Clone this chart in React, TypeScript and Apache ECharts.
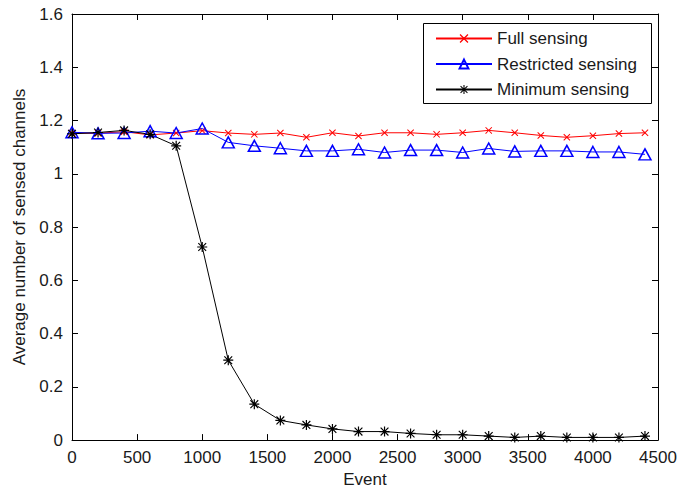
import React, { useEffect, useRef } from 'react';
import * as echarts from 'echarts';

const events = [0, 200, 400, 600, 800, 1000, 1200, 1400, 1600, 1800, 2000, 2200, 2400, 2600, 2800, 3000, 3200, 3400, 3600, 3800, 4000, 4200, 4400];
const fullSensing = [1.153, 1.152, 1.158, 1.146, 1.153, 1.162, 1.153, 1.148, 1.153, 1.137, 1.154, 1.142, 1.154, 1.154, 1.148, 1.154, 1.163, 1.154, 1.144, 1.137, 1.143, 1.151, 1.154];
const restrictedSensing = [1.156, 1.152, 1.153, 1.16, 1.153, 1.17, 1.118, 1.105, 1.096, 1.086, 1.086, 1.092, 1.08, 1.089, 1.089, 1.08, 1.095, 1.084, 1.086, 1.086, 1.082, 1.082, 1.073];
const minimumSensing = [1.15, 1.155, 1.163, 1.148, 1.105, 0.725, 0.3, 0.135, 0.074, 0.057, 0.042, 0.032, 0.032, 0.025, 0.02, 0.02, 0.015, 0.01, 0.015, 0.01, 0.01, 0.01, 0.015];
const seriesNames = ['Full sensing', 'Restricted sensing', 'Minimum sensing'];

const FONT = '"Liberation Sans", Arial, Helvetica, sans-serif';
const TXT = '#1a1a1a';
const X_SYMBOL = 'path://M0,1L1,0L5,4L9,0L10,1L6,5L10,9L9,10L5,6L1,10L0,9L4,5Z';
const STAR_SYMBOL = 'path://M4.4,0L5.6,0L5.6,10L4.4,10ZM0,4.4L10,4.4L10,5.6L0,5.6ZM1.5,0.7L9.3,8.5L8.5,9.3L0.7,1.5ZM8.5,0.7L9.3,1.5L1.5,9.3L0.7,8.5Z';

const pairs = (vals: number[]) => events.map((e, i) => [e, vals[i]]);
const plain = (v: number) => String(v);

export default function App() {
  const ref = useRef<HTMLDivElement>(null);
  useEffect(() => {
    const chart = echarts.init(ref.current!, undefined, { renderer: 'svg' });
    const axisCommon = {
      axisLine: { show: true, onZero: false, lineStyle: { color: '#000', width: 1 } },
      axisTick: { show: true, inside: true, length: 6, lineStyle: { color: '#000', width: 1 } },
      splitLine: { show: false },
    };
    chart.setOption({
      animation: false,
      backgroundColor: '#fff',
      grid: { left: 72, right: 34, top: 14, bottom: 50, containLabel: false },
      xAxis: [
        {
          type: 'value', min: 0, max: 4500, interval: 500, position: 'bottom',
          ...axisCommon,
          axisLabel: { color: TXT, fontSize: 17, fontFamily: FONT, margin: 9, formatter: plain },
          name: 'Event', nameLocation: 'middle', nameGap: 30,
          nameTextStyle: { color: TXT, fontSize: 17, fontFamily: FONT },
        },
        {
          type: 'value', min: 0, max: 4500, interval: 500, position: 'top',
          ...axisCommon,
          axisLabel: { show: false },
        },
      ],
      yAxis: [
        {
          type: 'value', min: 0, max: 1.6, interval: 0.2, position: 'left',
          ...axisCommon,
          axisLabel: { color: TXT, fontSize: 17, fontFamily: FONT, margin: 9, formatter: plain },
          name: 'Average number of sensed channels', nameLocation: 'middle', nameGap: 43,
          nameTextStyle: { color: TXT, fontSize: 17, fontFamily: FONT },
        },
        {
          type: 'value', min: 0, max: 1.6, interval: 0.2, position: 'right',
          ...axisCommon,
          axisLabel: { show: false },
        },
      ],
      graphic: [
        {
          type: 'rect', z: 3,
          shape: { x: 423.5, y: 23.5, width: 228, height: 80 },
          style: { fill: '#fff', stroke: '#000', lineWidth: 1 },
        },
      ],
      legend: {
        orient: 'vertical', left: 435, top: 30, padding: 0,
        itemWidth: 56, itemHeight: 11, itemGap: 8.5,
        data: seriesNames,
        textStyle: { color: TXT, fontSize: 17, fontFamily: FONT },
      },
      series: [
        {
          name: seriesNames[0], type: 'line', data: pairs(fullSensing),
          symbol: X_SYMBOL, symbolSize: 7,
          lineStyle: { color: '#ff0000', width: 1 },
          itemStyle: { color: '#ff0000', borderWidth: 0 },
        },
        {
          name: seriesNames[1], type: 'line', data: pairs(restrictedSensing),
          symbol: 'triangle', symbolSize: [12, 11],
          lineStyle: { color: '#0000ff', width: 1 },
          itemStyle: { color: 'rgba(255,255,255,0)', borderColor: '#0000ff', borderWidth: 1.5 },
        },
        {
          name: seriesNames[2], type: 'line', data: pairs(minimumSensing),
          symbol: STAR_SYMBOL, symbolSize: 10,
          lineStyle: { color: '#000', width: 1 },
          itemStyle: { color: '#000', borderWidth: 0 },
        },
      ],
    });
    return () => chart.dispose();
  }, []);
  return <div ref={ref} style={{ position: 'absolute', left: 0, top: 0, width: 692, height: 493, background: '#fff' }} />;
}
